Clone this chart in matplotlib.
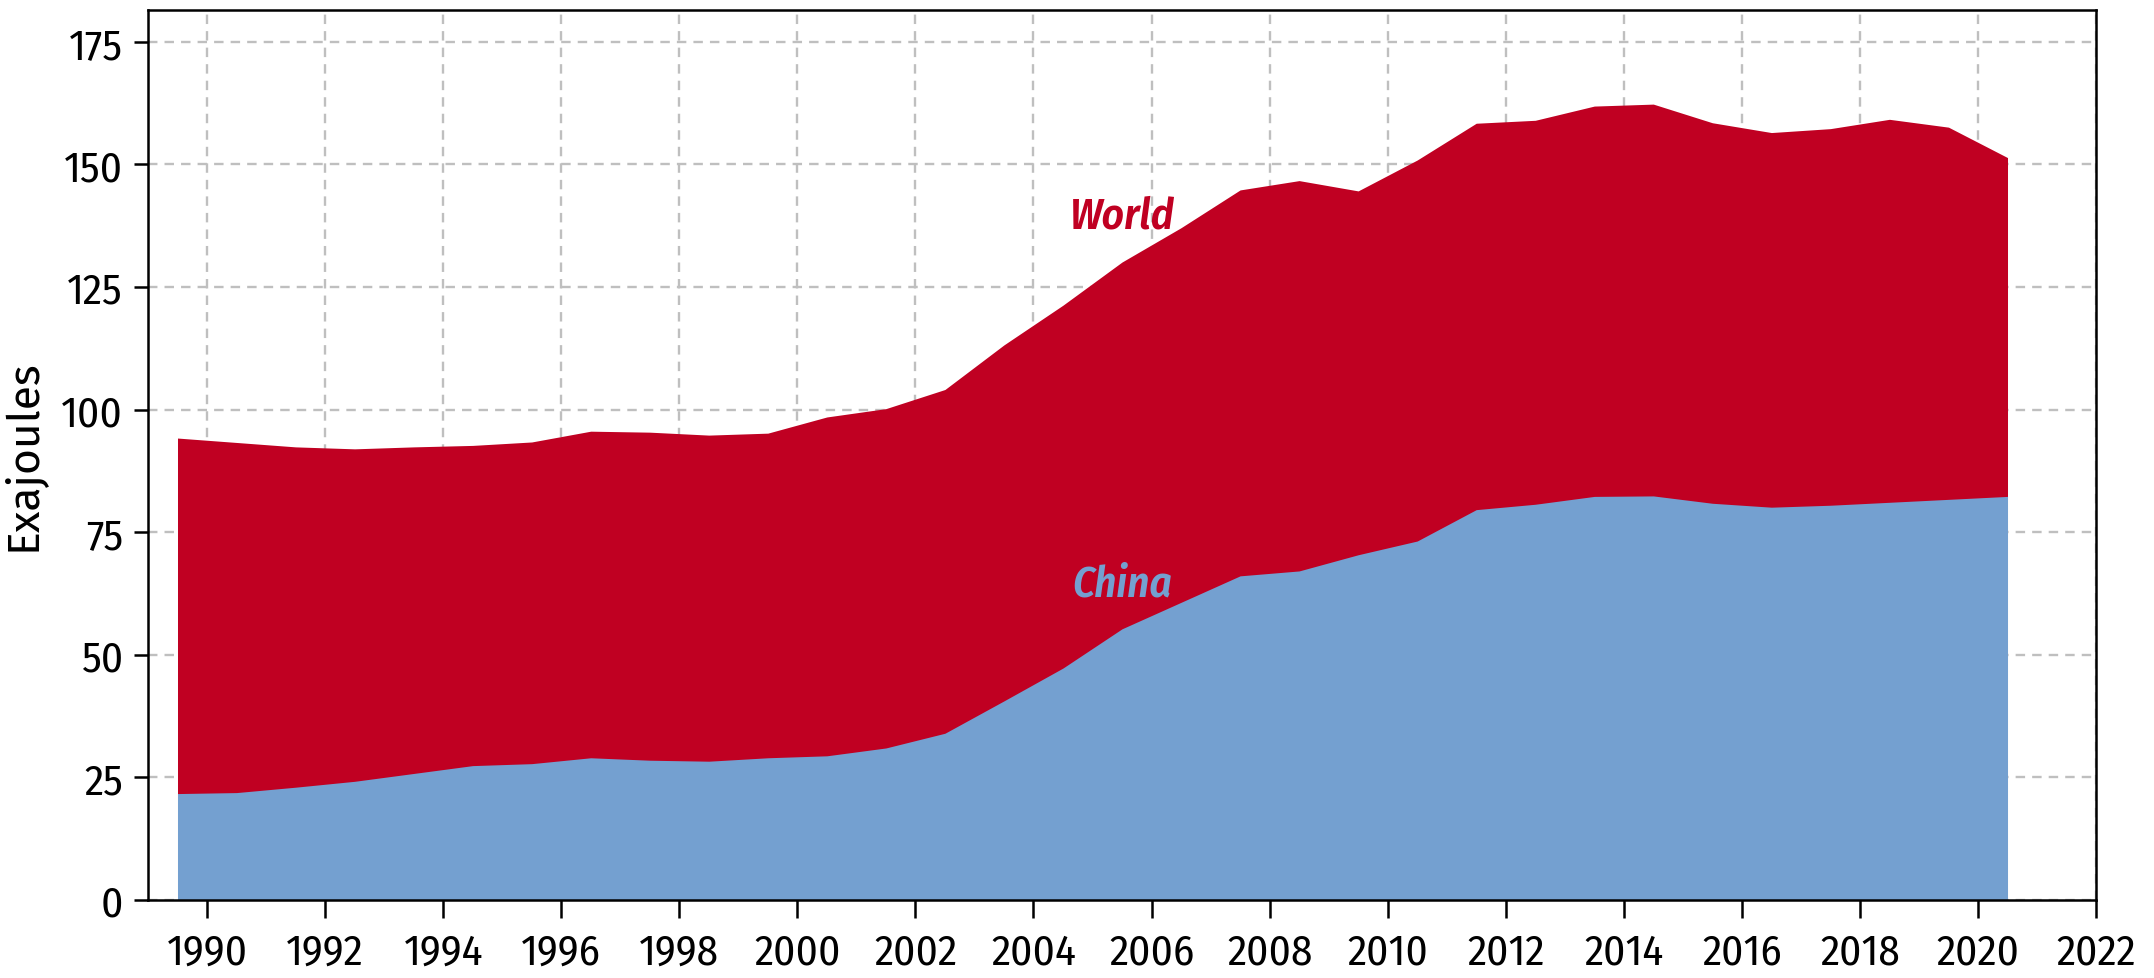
import matplotlib
matplotlib.use("Agg")
import matplotlib.pyplot as plt
import numpy as np

# coal consumption, exajoules (points sit at mid-year)
years = list(range(1989, 2021))
world = [94.2, 93.3, 92.4, 92.0, 92.4, 92.7, 93.4, 95.6, 95.4, 94.8, 95.2, 98.5,
         100.2, 104.1, 113.2, 121.3, 130.1, 137.1, 144.8, 146.7, 144.6, 150.9,
         158.4, 159.0, 161.9, 162.3, 158.5, 156.5, 157.3, 159.2, 157.6, 151.4]
china = [21.7, 21.9, 23.0, 24.2, 25.8, 27.4, 27.8, 29.0, 28.5, 28.3, 29.0, 29.4,
         31.0, 34.0, 40.6, 47.3, 55.3, 60.7, 66.1, 67.1, 70.4, 73.2,
         79.6, 80.7, 82.3, 82.4, 80.9, 80.1, 80.5, 81.1, 81.7, 82.3]
xticks = list(range(1990, 2023, 2))
yticks = [0, 25, 50, 75, 100, 125, 150, 175]

red = "#C00022"
blue = "#74A0D0"

plt.rcParams['font.family'] = ['Fira Sans Condensed', 'DejaVu Sans']

fig = plt.figure(figsize=(21.54, 9.79), dpi=100)
ax = fig.add_axes([0.0687, 0.0797, 0.9044, 0.9091])

x = np.array(years) + 0.5
ax.fill_between(x, 0, world, color=red, linewidth=0, zorder=2)
ax.fill_between(x, 0, china, color=blue, linewidth=0, zorder=3)

ax.set_xlim(1989, 2022)
ax.set_ylim(0, 181.5)
ax.set_xticks(xticks)
ax.set_yticks(yticks)
ax.grid(True, color="#BFBFBF", linestyle=(0, (4, 3)), linewidth=1.7)
ax.set_axisbelow(True)

for s in ax.spines.values():
    s.set_linewidth(1.8)
    s.set_zorder(5)
ax.tick_params(axis="both", direction="out", width=1.8, labelsize=31)
ax.tick_params(axis="x", length=13, pad=10)
ax.tick_params(axis="y", length=10, pad=8)

ax.set_ylabel("Exajoules", fontsize=32, family=['Fira Sans', 'DejaVu Sans'])
ax.yaxis.set_label_coords(-0.053, 0.501)

ax.text(2005.5, 139.5, "World", color=red, fontsize=31, style="italic",
        weight=600, ha="center", va="center", zorder=6)
ax.text(2005.5, 64.5, "China", color=blue, fontsize=31, style="italic",
        weight=600, ha="center", va="center", zorder=6)

fig.savefig("out.png", dpi=100)
